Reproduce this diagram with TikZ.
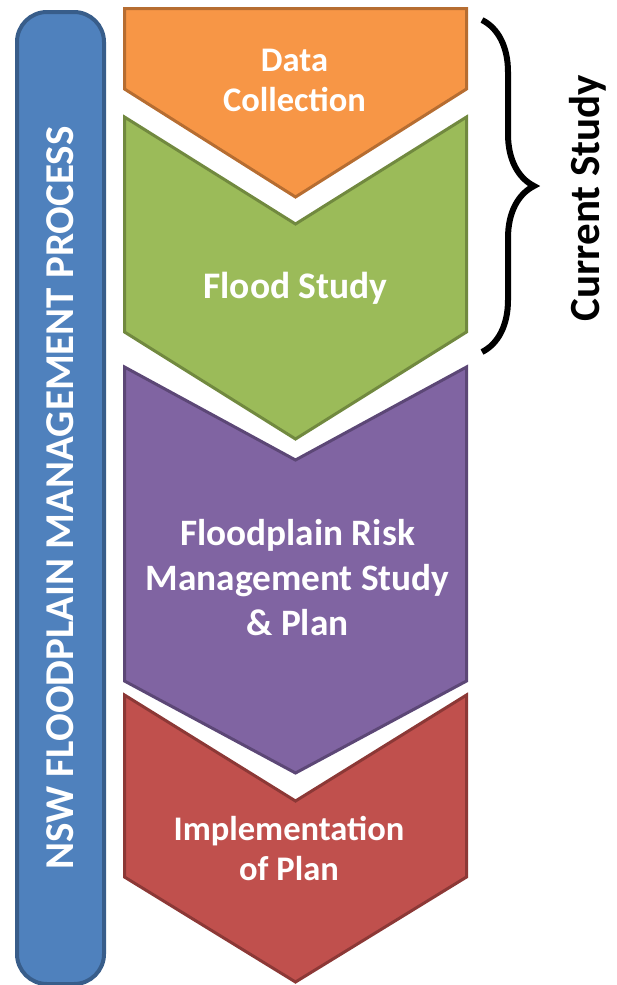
\documentclass[tikz,border=0pt]{standalone}
\usepackage{fontspec}
\setmainfont{Carlito}
\usepackage{tikz}
\usetikzlibrary{decorations.pathreplacing}
\definecolor{collectfill}{HTML}{F79646}
\definecolor{collectline}{HTML}{B66D31}
\definecolor{floodfill}{HTML}{9BBB59}
\definecolor{floodline}{HTML}{71893F}
\definecolor{riskfill}{HTML}{8064A2}
\definecolor{riskline}{HTML}{5C4776}
\definecolor{planfill}{HTML}{C0504D}
\definecolor{planline}{HTML}{8C3836}
\definecolor{barfill}{HTML}{4F81BD}
\definecolor{barline}{HTML}{385D8A}
\tikzset{
stage box/.style 2 args = { draw = #2, fill = #1, line width = 3pt },
stage label/.style = { text = white, align = center, inner sep = 0pt, font = \bfseries\fontsize{34.5}{40}\selectfont },
process bar/.style = { rectangle, draw = barline, fill = barfill, line width = 4pt, rounded corners = 30pt, rotate = 90, inner sep = 0pt },
}

\begin{document}
\begin{tikzpicture}[x=1pt, y=-1pt]
      \useasboundingbox (0,0) rectangle (617,985);
      % side bar
      \node[process bar, minimum width = 972pt, minimum height = 87pt, text = white, font = \bfseries\fontsize{41}{46}\selectfont] (bar) at (60.5,498) {NSW FLOODPLAIN MANAGEMENT PROCESS};
      % chevrons
      \path[stage box = {collectfill}{collectline}] (124.5,8.5) -- (466.5,8.5) -- (466.5,89) -- (295.5,197) -- (124.5,89) -- cycle;
      \path[stage box = {floodfill}{floodline}] (124.5,117) -- (295.5,224) -- (466.5,117) -- (466.5,332) -- (295.5,439) -- (124.5,332) -- cycle;
      \path[stage box = {riskfill}{riskline}] (124.5,367) -- (295.5,460) -- (466.5,367) -- (466.5,681) -- (295.5,773) -- (124.5,681) -- cycle;
      \path[stage box = {planfill}{planline}] (124.5,695) -- (295.5,801) -- (466.5,695) -- (466.5,877) -- (295.5,982) -- (124.5,877) -- cycle;
      \begin{scope}[every node/.style={stage label}]
        \node (collect) at (294.5,80) {Data\\Collection};
        \node[font = \bfseries\fontsize{37.5}{45}\selectfont] (flood) at (295.5,288) {Flood Study};
        \node[font = \bfseries\fontsize{37.3}{45}\selectfont] (risk) at (297.5,578) {Floodplain Risk\\Management Study\\\& Plan};
        \node (implement) at (289,848) {Implementation\\of Plan};
      \end{scope}
      % current study brace
      \coordinate (brace top) at (482,20);
      \coordinate (brace bottom) at (482,352);
      \draw[decorate, decoration = {brace, amplitude = 52pt}, line width = 6pt] (brace top) -- (brace bottom);
      \node[rotate = 90, inner sep = 0pt, font = \bfseries\fontsize{43}{48}\selectfont] (current) at (588,198) {Current Study};
\end{tikzpicture}
\end{document}
